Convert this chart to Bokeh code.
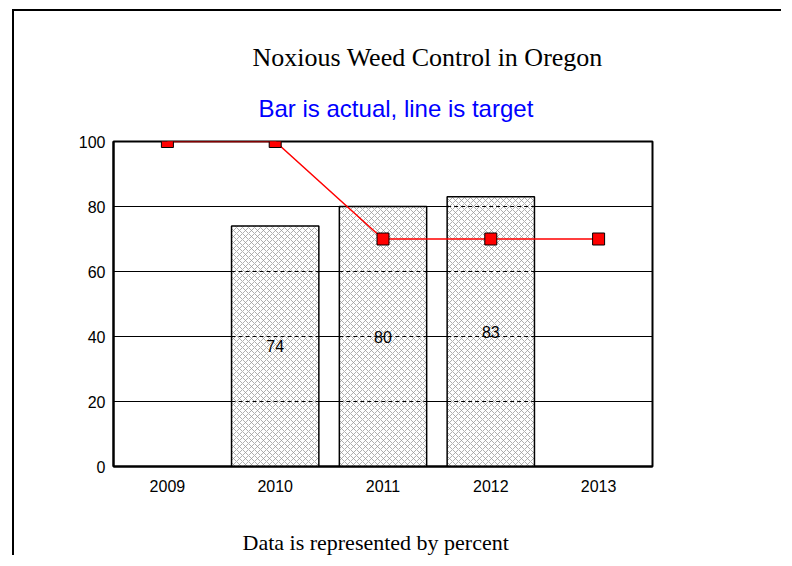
from bokeh.plotting import figure
from bokeh.models import FactorRange, Range1d, Title, FixedTicker
from bokeh.embed import file_html
from bokeh.resources import INLINE

years = ["2009", "2010", "2011", "2012", "2013"]
target = [100, 100, 70, 70, 70]
bar_years = ["2010", "2011", "2012"]
actual = [74, 80, 83]
y_ticks = [0, 20, 40, 60, 80, 100]

title_text = "Noxious Weed Control in Oregon"
subtitle_text = "Bar is actual, line is target"
footer_text = "Data is represented by percent"

SANS = "Liberation Sans"
SERIF = "Liberation Serif"

W, H = 769, 546
p = figure(width=W, height=H, x_range=FactorRange(*years), y_range=Range1d(0, 100),
           output_backend="svg", toolbar_location=None, title_location=None,
           min_border_left=99, min_border_top=130, min_border_right=131, min_border_bottom=91)
p.styles = {"position": "relative", "left": "12px", "top": "9px",
            "border-left": "2px solid black", "border-top": "2px solid black"}

p.outline_line_color = "black"
p.outline_line_width = 2
p.background_fill_color = "white"
p.border_fill_color = "white"

p.xgrid.grid_line_color = None
p.ygrid.grid_line_color = "black"
p.ygrid.grid_line_width = 1
p.yaxis.ticker = FixedTicker(ticks=y_ticks)

for ax in (p.xaxis[0], p.yaxis[0]):
    ax.axis_line_color = "black"
    ax.axis_line_width = 2
    ax.major_tick_in = 0
    ax.major_tick_out = 0
    ax.minor_tick_in = 0
    ax.minor_tick_out = 0
    ax.major_label_text_font = SANS
    ax.major_label_text_font_size = "16px"
    ax.major_label_text_color = "black"
    ax.major_label_standoff = 8
p.xaxis[0].major_label_standoff = 13

p.vbar(x=bar_years, top=actual, width=0.81, fill_color="white",
       line_color="black", line_width=1.5,
       hatch_pattern="diagonal_cross", hatch_color="#9a9a9a", hatch_scale=6, hatch_weight=0.8)

# gridlines seen through the hatched bars (dashed)
x0, x1, ys = [], [], []
for yr, v in zip(bar_years, actual):
    for t in y_ticks[1:-1]:
        if t < v:
            x0.append((yr, -0.405))
            x1.append((yr, 0.405))
            ys.append(t)
p.segment(x0=x0, y0=ys, x1=x1, y1=ys, line_color="black", line_width=1, line_dash="4 3")

p.text(x=bar_years, y=[v / 2 for v in actual], text=[str(v) for v in actual],
       text_align="center", text_baseline="middle", text_font_size="16px",
       text_font={"value": SANS}, text_color="black")

p.line(x=years, y=target, line_color="red", line_width=1.5)
p.scatter(x=years, y=target, marker="square", size=12, fill_color="red",
          line_color="black", line_width=1)

p.add_layout(Title(text=subtitle_text, align="left", offset=145, standoff=40,
                   text_font=SANS, text_font_size="24px", text_font_style="normal",
                   text_color="blue"), "above")
p.add_layout(Title(text=title_text, align="left", offset=139, standoff=2,
                   text_font=SERIF, text_font_size="26px", text_font_style="normal",
                   text_color="black"), "above")
# blank spacer between the year labels and the footer
p.add_layout(Title(text=" ", align="left", offset=0, standoff=18,
                   text_font=SANS, text_font_size="10px"), "below")
p.add_layout(Title(text=footer_text, align="left", offset=129, standoff=4,
                   text_font=SERIF, text_font_size="22px", text_font_style="normal",
                   text_color="black"), "below")

open("out.html", "w").write(file_html(p, INLINE))
